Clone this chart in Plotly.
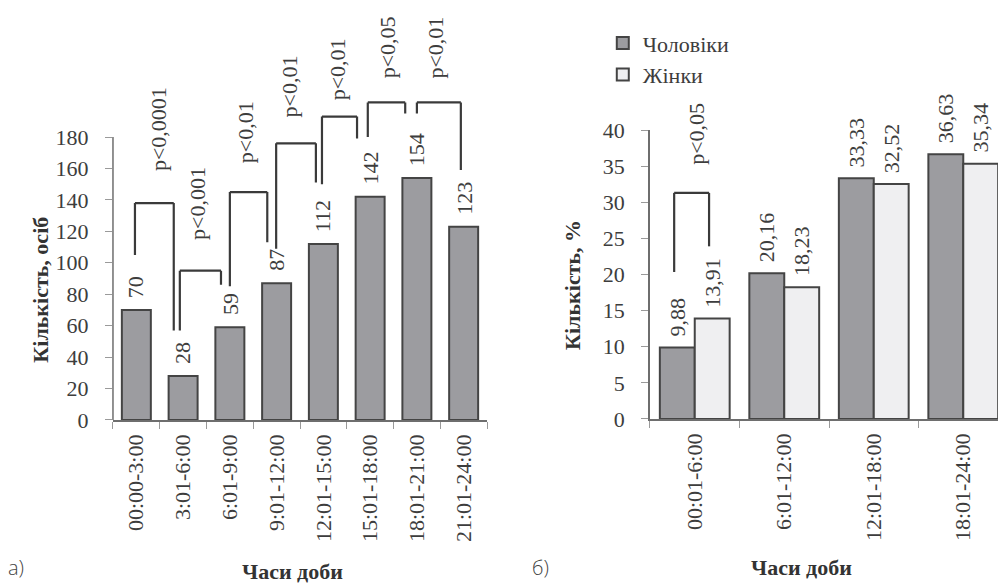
import plotly.graph_objects as go

# ---------- Panel a) data ----------
hours_a = ["00:00-3:00", "3:01-6:00", "6:01-9:00", "9:01-12:00",
           "12:01-15:00", "15:01-18:00", "18:01-21:00", "21:01-24:00"]
counts_a = [70, 28, 59, 87, 112, 142, 154, 123]
yticks_a = [0, 20, 40, 60, 80, 100, 120, 140, 160, 180]

# significance brackets for panel a) (x in category index units, y in data units)
br_left_x = [-0.03, 0.93, 2.0, 2.99, 3.97, 4.95, 6.0]
br_right_x = [0.80, 1.81, 2.80, 3.84, 4.72, 5.75, 6.94]
br_left_y = [105, 57, 85, 109, 150, 180, 195]
br_top_y = [138, 95, 145, 176, 193, 202, 202]
br_right_y = [57, 86, 113, 151, 179, 195, 159]
br_labels = ["p<0,0001", "p<0,001", "p<0,01", "p<0,01", "p<0,01", "p<0,05", "p<0,01"]
br_label_x = [0.46, 1.32, 2.32, 3.28, 4.31, 5.38, 6.39]
br_label_y = [157, 113, 162, 191, 202, 216, 216]

# ---------- Panel б) data ----------
hours_b = ["00:01-6:00", "6:01-12:00", "12:01-18:00", "18:01-24:00"]
men = [9.88, 20.16, 33.33, 36.63]
women = [13.91, 18.23, 32.52, 35.34]
yticks_b = [0, 5, 10, 15, 20, 25, 30, 35, 40]
series_names = ["Чоловіки", "Жінки"]

brb_left_x = [-0.23]
brb_right_x = [0.16]
brb_left_y = [20.35]
brb_top_y = [31.3]
brb_right_y = [23.9]
brb_labels = ["p<0,05"]
brb_label_x = [0.025]
brb_label_y = [34.9]

# ---------- styles ----------
SERIF = "Liberation Serif"
TXT = "#3d3d3d"
MALE = "#9c9ca0"
FEMALE = "#efeff1"
EDGE = "#444444"
AXIS = "#6e6e6e"
TICK = "#9a9a9a"
FS = 22
BW_A = 0.62
BW_B = 0.39

fig = go.Figure()
fig.add_trace(go.Bar(x=hours_a, y=counts_a, xaxis="x", yaxis="y",
                     width=BW_A, offset=-BW_A / 2, showlegend=False,
                     marker=dict(color=MALE, line=dict(color=EDGE, width=2))))
fig.add_trace(go.Bar(name=series_names[0], x=hours_b, y=men, xaxis="x2", yaxis="y2",
                     width=BW_B, offset=-BW_B,
                     marker=dict(color=MALE, line=dict(color=EDGE, width=2))))
fig.add_trace(go.Bar(name=series_names[1], x=hours_b, y=women, xaxis="x2", yaxis="y2",
                     width=BW_B, offset=0,
                     marker=dict(color=FEMALE, line=dict(color=EDGE, width=2))))

annotations = []
shapes = []

def esc(s):
    return s.replace("<", "&lt;")

# value labels
for i, v in enumerate(counts_a):
    annotations.append(dict(x=i, y=v, xref="x", yref="y", text=str(v), showarrow=False,
                            textangle=-90, yanchor="bottom", xanchor="center", yshift=10,
                            font=dict(family=SERIF, size=FS, color=TXT)))
for i, v in enumerate(men):
    annotations.append(dict(x=i - BW_B / 2, y=v, xref="x2", yref="y2",
                            text=f"{v:.2f}".replace(".", ","), showarrow=False,
                            textangle=-90, yanchor="bottom", xanchor="center", yshift=9,
                            font=dict(family=SERIF, size=FS, color=TXT)))
for i, v in enumerate(women):
    annotations.append(dict(x=i + BW_B / 2, y=v, xref="x2", yref="y2",
                            text=f"{v:.2f}".replace(".", ","), showarrow=False,
                            textangle=-90, yanchor="bottom", xanchor="center", yshift=9,
                            font=dict(family=SERIF, size=FS, color=TXT)))

def add_brackets(xr, yr, lx, rx, ly, ty, ry, labels, labx, laby):
    for k in range(len(labels)):
        line = dict(color="#3a3a3a", width=2.2)
        shapes.append(dict(type="line", xref=xr, yref=yr, x0=lx[k], x1=lx[k], y0=ly[k], y1=ty[k], line=line))
        shapes.append(dict(type="line", xref=xr, yref=yr, x0=lx[k], x1=rx[k], y0=ty[k], y1=ty[k], line=line))
        shapes.append(dict(type="line", xref=xr, yref=yr, x0=rx[k], x1=rx[k], y0=ty[k], y1=ry[k], line=line))
        annotations.append(dict(x=labx[k], y=laby[k], xref=xr, yref=yr, text=esc(labels[k]),
                                showarrow=False, textangle=-90, yanchor="bottom", xanchor="center",
                                font=dict(family=SERIF, size=FS, color=TXT)))

add_brackets("x", "y", br_left_x, br_right_x, br_left_y, br_top_y, br_right_y,
             br_labels, br_label_x, br_label_y)
add_brackets("x2", "y2", brb_left_x, brb_right_x, brb_left_y, brb_top_y, brb_right_y,
             brb_labels, brb_label_x, brb_label_y)

# left y-axis line only up to the last tick
shapes.append(dict(type="line", xref="x domain", yref="y", x0=0, x1=0,
                   y0=yticks_a[0], y1=yticks_a[-1], line=dict(color=AXIS, width=1.5)))

# axis titles and panel letters
title_font = dict(family=SERIF, size=FS, color="#333333", weight="bold")
letter_font = dict(family="Open Sans, sans-serif", size=20, color="#444444", weight=300)
annotations += [
    dict(x=0.041, y=0.503, xref="paper", yref="paper", text="Кількість, осіб", textangle=-90,
         showarrow=False, font=title_font, xanchor="center", yanchor="middle"),
    dict(x=0.2926, y=0.019, xref="paper", yref="paper", text="Часи доби",
         showarrow=False, font=title_font, xanchor="center", yanchor="middle"),
    dict(x=0.573, y=0.511, xref="paper", yref="paper", text="Кількість, %", textangle=-90,
         showarrow=False, font=title_font, xanchor="center", yanchor="middle"),
    dict(x=0.8036, y=0.027, xref="paper", yref="paper", text="Часи доби",
         showarrow=False, font=title_font, xanchor="center", yanchor="middle"),
    dict(x=0.006, y=0.0, xref="paper", yref="paper", text="а)", showarrow=False,
         font=letter_font, xanchor="left", yanchor="bottom"),
    dict(x=0.531, y=0.0, xref="paper", yref="paper", text="б)", showarrow=False,
         font=letter_font, xanchor="left", yanchor="bottom"),
]

tickfont = dict(family=SERIF, size=FS, color=TXT)
common_x = dict(type="category", showline=True, linecolor=AXIS, linewidth=1.5,
                ticks="outside", tickson="boundaries", ticklen=7, tickcolor=TICK, tickwidth=1,
                tickangle=-90, tickfont=tickfont, showgrid=False, zeroline=False,
                automargin=False, fixedrange=True, ticklabelstandoff=4)
common_y = dict(ticks="outside", ticklen=7, tickcolor=TICK, tickwidth=1, tickfont=tickfont,
                showgrid=False, zeroline=False, automargin=False, fixedrange=True,
                ticklabelstandoff=12)

fig.update_layout(
    width=998, height=583, template="none",
    paper_bgcolor="white", plot_bgcolor="white",
    margin=dict(l=0, r=0, t=0, b=0),
    barmode="overlay",
    xaxis=dict(domain=[0.1132, 0.488], range=[-0.5, len(hours_a) - 0.5], anchor="y", **common_x),
    yaxis=dict(domain=[0.2796, 0.8998], range=[0, 230], tickvals=yticks_a, showline=False,
               anchor="x", **common_y),
    xaxis2=dict(domain=[0.6513, 1.0], range=[-0.5, 3.388], anchor="y2", **common_x),
    yaxis2=dict(domain=[0.2813, 0.777], range=[yticks_b[0], yticks_b[-1]], tickvals=yticks_b,
                showline=True, linecolor=AXIS, linewidth=1.5, anchor="x2", **common_y),
    legend=dict(x=0.604, xanchor="left", y=0.962, yanchor="top", bgcolor="rgba(0,0,0,0)",
                font=dict(family=SERIF, size=FS, color=TXT), traceorder="normal",
                itemwidth=30, tracegroupgap=0),
    shapes=shapes, annotations=annotations,
)

fig.write_html("out.html", config={"displayModeBar": False},
               post_script="document.body.style.margin='0';document.body.style.overflow='hidden';")
